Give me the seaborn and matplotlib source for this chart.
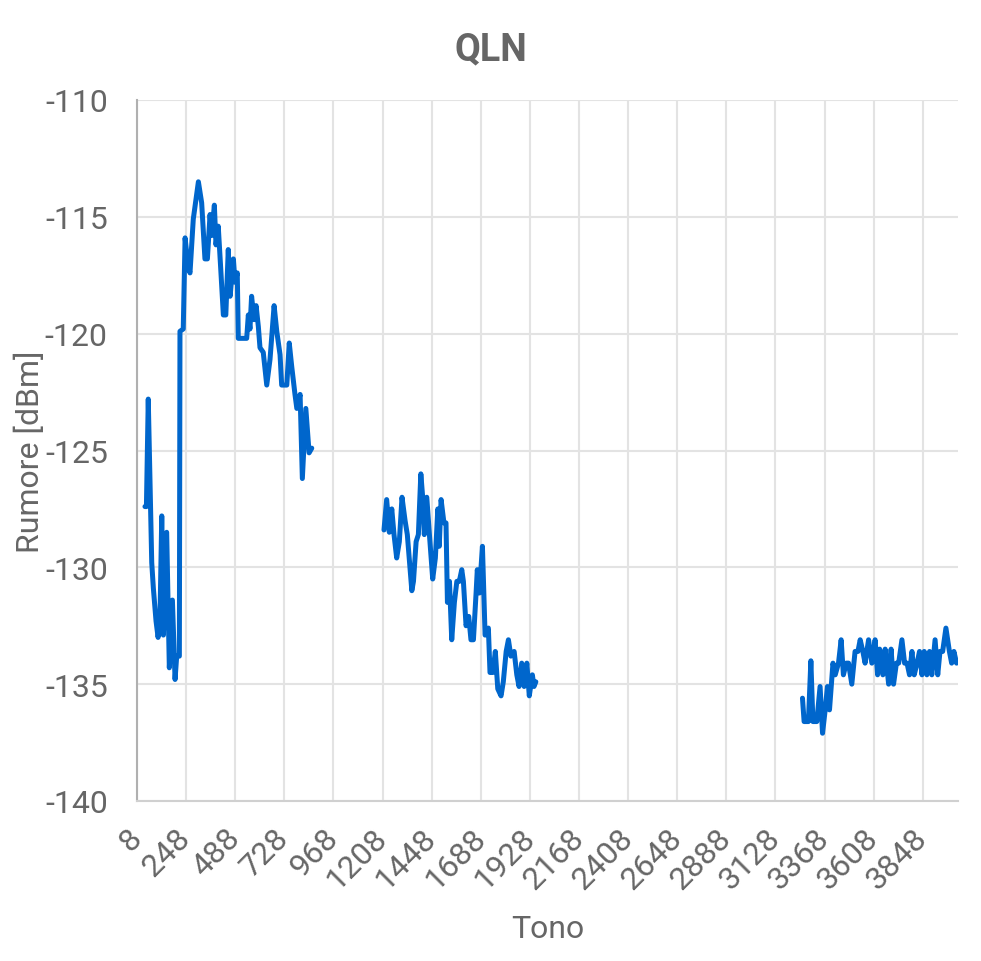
import numpy as np
import pandas as pd
import matplotlib.pyplot as plt
import seaborn as sns

# QLN per tono, tre bande
tono_1 = [47, 54, 63, 80, 88, 101, 111, 120, 129, 137, 153, 166, 181, 194, 202, 215,
          218, 234, 243, 259, 267, 283, 308, 324, 340, 352, 365, 373, 386, 394, 405,
          417, 430, 442, 454, 463, 479, 487, 498, 503, 544, 552, 560, 568, 580, 590,
          601, 609, 625, 642, 658, 678, 691, 707, 715, 740, 752, 764, 780, 789, 805,
          816, 833, 849, 862]
qln_1 = [-127.4, -127.4, -122.8, -129.8, -130.9, -132.3, -133.0, -132.3, -127.8, -132.9,
         -128.5, -134.3, -131.4, -134.8, -133.8, -133.8, -119.9, -119.8, -115.9, -117.2,
         -117.4, -115.1, -113.5, -114.4, -116.8, -116.8, -114.9, -115.8, -114.5, -116.2,
         -115.4, -117.2, -119.2, -119.2, -116.4, -118.4, -116.8, -117.8, -117.4, -120.2,
         -120.2, -119.2, -119.8, -118.4, -119.4, -118.8, -119.7, -120.6, -120.8, -122.2,
         -121.1, -118.8, -119.9, -120.9, -122.2, -122.2, -120.4, -121.4, -122.6, -123.2,
         -122.6, -126.2, -123.2, -125.1, -124.9]

tono_2 = [1215, 1228, 1241, 1253, 1264, 1277, 1290, 1303, 1318, 1329, 1351, 1359, 1372,
          1383, 1395, 1405, 1412, 1424, 1437, 1453, 1466, 1478, 1485, 1494, 1508, 1518,
          1525, 1535, 1546, 1559, 1571, 1583, 1595, 1603, 1616, 1629, 1640, 1652, 1665,
          1671, 1681, 1696, 1709, 1725, 1733, 1747, 1759, 1771, 1787, 1798, 1812, 1823,
          1835, 1851, 1864, 1875, 1888, 1900, 1913, 1925, 1940, 1948, 1957]
qln_2 = [-128.4, -127.1, -128.5, -127.5, -128.6, -129.6, -128.9, -127.0, -128.0, -128.6,
         -131.0, -130.6, -128.9, -128.6, -126.0, -127.1, -128.6, -127.0, -128.6, -130.5,
         -129.6, -127.5, -129.1, -127.1, -128.1, -128.1, -131.5, -130.6, -133.1, -131.5,
         -130.6, -130.6, -130.1, -130.6, -132.5, -132.1, -133.1, -133.1, -131.1, -130.1,
         -131.1, -129.1, -132.9, -132.6, -134.5, -134.5, -133.6, -135.2, -135.5, -134.9,
         -133.6, -133.1, -133.8, -133.6, -134.6, -135.1, -134.1, -135.1, -134.1, -135.5,
         -134.6, -135.1, -134.9]

tono_3 = [3260, 3268, 3289, 3301, 3311, 3330, 3346, 3358, 3371, 3382, 3392, 3409, 3420,
          3436, 3449, 3460, 3474, 3485, 3501, 3517, 3531, 3542, 3555, 3566, 3583, 3599,
          3615, 3627, 3637, 3653, 3664, 3681, 3693, 3705, 3719, 3730, 3746, 3759, 3771,
          3783, 3795, 3806, 3820, 3832, 3844, 3855, 3868, 3881, 3892, 3908, 3921, 3932,
          3945, 3961, 3978, 3989, 4000, 4013]
qln_3 = [-135.6, -136.6, -136.6, -134.0, -136.6, -136.6, -135.1, -137.1, -136.1, -135.1,
         -136.1, -134.1, -134.6, -134.1, -133.1, -134.6, -134.1, -134.1, -135.0, -133.6,
         -133.6, -133.1, -133.6, -134.1, -133.1, -134.1, -133.1, -134.6, -133.5, -134.6,
         -133.5, -135.0, -133.5, -135.0, -134.1, -134.1, -133.1, -134.1, -134.1, -134.6,
         -133.6, -134.6, -134.1, -133.6, -134.6, -133.6, -134.6, -133.6, -134.6, -133.1,
         -134.6, -133.6, -133.6, -132.6, -133.6, -134.1, -133.6, -134.1]

x_ticks = list(range(8, 3849, 240))
y_ticks = [-140, -135, -130, -125, -120, -115, -110]

df = pd.concat([
    pd.DataFrame({"tono": tono_1, "qln": qln_1, "banda": 1}),
    pd.DataFrame({"tono": tono_2, "qln": qln_2, "banda": 2}),
    pd.DataFrame({"tono": tono_3, "qln": qln_3, "banda": 3}),
])

sns.set_style("white")
plt.rcParams['font.family'] = ['Roboto', 'DejaVu Sans']

grey = "#666666"
gridc = "#e3e3e3"

fig = plt.figure(figsize=(9.81, 9.62), dpi=100)
ax = fig.add_axes([137 / 981, 1 - 802 / 962, 821 / 981, 701 / 962])

sns.lineplot(data=df, x="tono", y="qln", units="banda", estimator=None,
             color="#0066cc", linewidth=3.6, ax=ax)

ax.set_xlim(8, 4020)
ax.set_ylim(-140, -110)
ax.set_xticks(x_ticks)
ax.set_yticks(y_ticks)
ax.set_xticklabels([str(t) for t in x_ticks], rotation=45, ha="right", va="center",
                   rotation_mode="anchor", fontsize=23, color=grey)
ax.set_yticklabels([str(t) for t in y_ticks], fontsize=23, color=grey)
ax.grid(True, color=gridc, linewidth=1.5)
ax.tick_params(axis="both", length=19, width=1.5, color=gridc, pad=2)
ax.tick_params(axis="x", pad=4)

for s in ["top", "right"]:
    ax.spines[s].set_visible(False)
ax.spines["left"].set_color("#b0b0b0")
ax.spines["left"].set_linewidth(1.5)
ax.spines["bottom"].set_color("#d0d0d0")
ax.spines["bottom"].set_linewidth(1.5)

ax.set_xlabel("Tono", fontsize=23, color=grey)
ax.set_ylabel("Rumore [dBm]", fontsize=23, color=grey)
ax.xaxis.set_label_coords(0.5, (802 - 930) / 701)
ax.yaxis.set_label_coords((30 - 137) / 821, 0.5)
ax.xaxis.label.set_va("center")
ax.yaxis.label.set_va("center")
fig.text(0.5, 1 - 50 / 962, "QLN", ha="center", va="center",
         fontsize=27, fontweight="bold", color=grey)

plt.savefig("out.png", dpi=100)
